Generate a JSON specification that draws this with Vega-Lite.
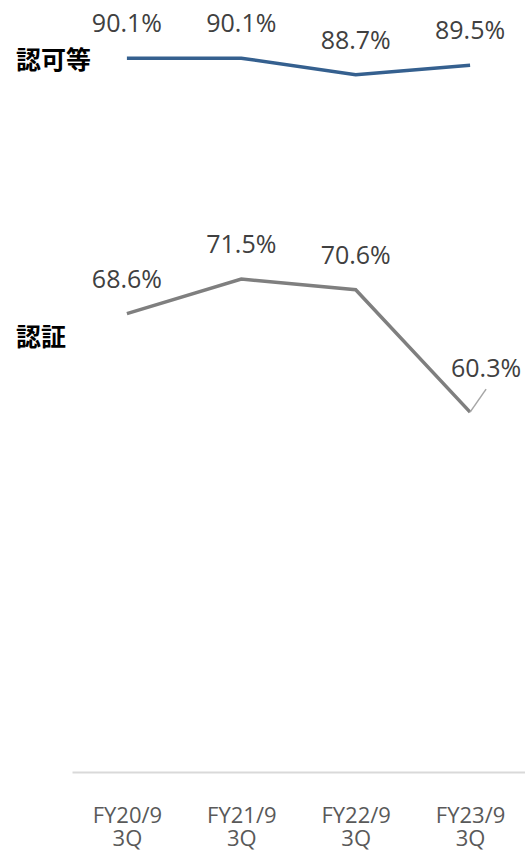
{
  "$schema": "https://vega.github.io/schema/vega-lite/v6.json",
  "width": 453,
  "height": 772,
  "autosize": {"type": "none"},
  "padding": {"left": 72, "top": 0, "right": 0, "bottom": 78},
  "background": "white",
  "config": {"view": {"stroke": null}},
  "data": {
    "values": [
      {"series": "認可等", "period": "FY20/9 3Q", "value": 90.1},
      {"series": "認可等", "period": "FY21/9 3Q", "value": 90.1},
      {"series": "認可等", "period": "FY22/9 3Q", "value": 88.7},
      {"series": "認可等", "period": "FY23/9 3Q", "value": 89.5},
      {"series": "認証", "period": "FY20/9 3Q", "value": 68.6},
      {"series": "認証", "period": "FY21/9 3Q", "value": 71.5},
      {"series": "認証", "period": "FY22/9 3Q", "value": 70.6},
      {"series": "認証", "period": "FY23/9 3Q", "value": 60.3}
    ]
  },
  "encoding": {
    "x": {
      "field": "period",
      "type": "ordinal",
      "sort": null,
      "scale": {"type": "point", "padding": 0.48},
      "axis": {
        "title": null,
        "grid": false,
        "ticks": false,
        "domainColor": "#d9d9d9",
        "domainWidth": 2,
        "labelAngle": 0,
        "labelFont": "Open Sans",
        "labelFontSize": 22,
        "labelColor": "#595959",
        "labelPadding": 33,
        "labelLineHeight": 23,
        "labelExpr": "split(datum.label, ' ')"
      }
    },
    "y": {
      "field": "value",
      "type": "quantitative",
      "scale": {"domain": [30, 95], "nice": false, "zero": false},
      "axis": null
    }
  },
  "layer": [
    {
      "mark": {"type": "line", "strokeWidth": 3.5},
      "encoding": {
        "color": {
          "field": "series",
          "type": "nominal",
          "scale": {"domain": ["認可等", "認証"], "range": ["#35608F", "#7F7F7F"]},
          "legend": null
        }
      }
    },
    {
      "transform": [{"filter": "datum.series == '認証' && datum.period == 'FY23/9 3Q'"}],
      "mark": {"type": "rule", "x2Offset": 16, "y2Offset": -23, "stroke": "#a6a6a6", "strokeWidth": 1.5},
      "encoding": {
        "x2": {"field": "period"},
        "y2": {"field": "value"}
      }
    },
    {
      "transform": [{"filter": "!(datum.series == '認証' && datum.period == 'FY23/9 3Q')"}],
      "mark": {"type": "text", "dy": -34, "baseline": "middle", "align": "center", "font": "Open Sans", "fontSize": 25, "color": "#404040"},
      "encoding": {"text": {"value": {"expr": "format(datum.value, '.1f') + '%'"}}}
    },
    {
      "transform": [{"filter": "datum.series == '認証' && datum.period == 'FY23/9 3Q'"}],
      "mark": {"type": "text", "dx": 16, "dy": -43, "baseline": "middle", "align": "center", "font": "Open Sans", "fontSize": 25, "color": "#404040", "text": {"expr": "format(datum.value, '.1f') + '%'"}},
      "encoding": {}
    },
    {
      "transform": [{"filter": "datum.series == '認可等' && datum.period == 'FY20/9 3Q'"}],
      "mark": {"type": "text", "dx": -111, "dy": 3, "baseline": "middle", "align": "left", "font": "Noto Sans CJK JP", "fontWeight": "bold", "fontSize": 25, "color": "#000000"},
      "encoding": {"text": {"field": "series"}}
    },
    {
      "transform": [{"filter": "datum.series == '認証' && datum.period == 'FY20/9 3Q'"}],
      "mark": {"type": "text", "dx": -111, "dy": 24, "baseline": "middle", "align": "left", "font": "Noto Sans CJK JP", "fontWeight": "bold", "fontSize": 25, "color": "#000000"},
      "encoding": {"text": {"field": "series"}}
    }
  ]
}
